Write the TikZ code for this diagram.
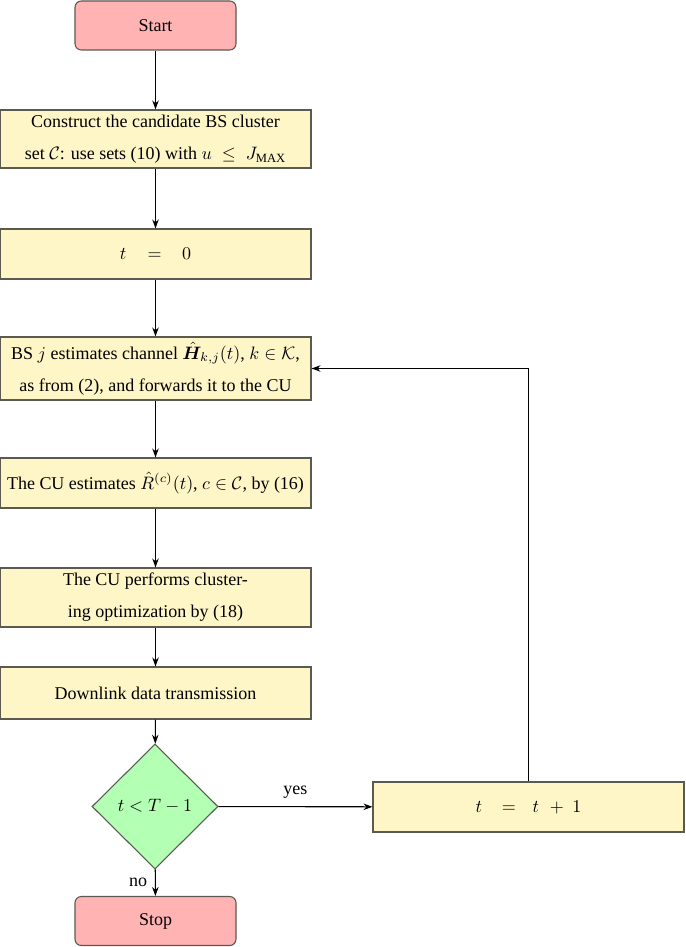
\documentclass[tikz,border=0pt]{standalone}
\usepackage{amsmath,amssymb,bm}
\usepackage{fontspec}
\setmainfont{Liberation Serif}
\usetikzlibrary{shapes.geometric,arrows.meta}
\definecolor{termfill}{RGB}{255,179,179}
\definecolor{procfill}{RGB}{255,246,200}
\definecolor{decfill}{RGB}{179,255,179}
\definecolor{edgegray}{RGB}{90,90,80}
\tikzset{
  base/.style={draw=edgegray, line width=0.6pt, inner sep=0pt, align=center,
    font=\fontsize{10}{17.8}\selectfont},
  term/.style={base, fill=termfill, rounded corners=3.5pt,
    minimum width=161*0.556pt, minimum height=49*0.556pt},
  proc/.style={base, fill=procfill, minimum width=311*0.556pt},
  dec/.style={base, fill=decfill, diamond, aspect=1,
    minimum width=126*0.556pt, minimum height=125*0.556pt},
  arr/.style={draw=black, line width=0.6pt, -{Stealth[length=5pt,width=3.6pt]}},
  lbl/.style={font=\fontsize{10}{12}\selectfont}
}
\begin{document}
\begin{tikzpicture}[x=0.556pt, y=-0.556pt]
\useasboundingbox (0,0) rectangle (685,947);
\node[term] (start) at (155.5,25.5) {Start};
\node[proc, minimum height=58*0.556pt] (cons) at (155.5,139)
  {Construct the candidate BS cluster\\set $\mathcal{C}$: use sets (10) with $u \;\le\; J_{\mathrm{MAX}}$};
\node[proc, minimum height=50*0.556pt] (init) at (155.5,254)
  {$t\hspace{9pt}=\hspace{8.6pt}0$};
\node[proc, minimum height=63*0.556pt] (est) at (155.5,368.5)
  {BS $j$ estimates channel $\hat{\bm{H}}_{k,j}(t)$, $k \in \mathcal{K}$,\\as from (2), and forwards it to the CU};
\node[proc, minimum height=50*0.556pt] (rate) at (155.5,483)
  {The CU estimates $\hat{R}^{(c)}(t)$, $c \in \mathcal{C}$, by (16)};
\node[proc, minimum height=59*0.556pt] (opt) at (155.5,597.5)
  {The CU performs cluster-\\ing optimization by (18)};
\node[proc, minimum height=52*0.556pt] (dl) at (155.5,693)
  {Downlink data transmission};
\node[dec] (cond) at (155,806.5) {$t < T-1$};
\node[proc, minimum height=50*0.556pt] (inc) at (528.5,807)
  {$t\hspace{8.2pt}=\hspace{6.5pt}t\hspace{3.8pt}+\hspace{2.5pt}1$};
\node[term] (stop) at (155.5,921) {Stop};
\coordinate (corner) at (inc.north |- est.east);
\draw[arr] (start) -- (cons);
\draw[arr] (cons) -- (init);
\draw[arr] (init) -- (est);
\draw[arr] (est) -- (rate);
\draw[arr] (rate) -- (opt);
\draw[arr] (opt) -- (dl);
\draw[arr] (dl) -- (cond);
\draw[arr] (cond) -- node[lbl, above, yshift=1pt] (yes) {yes} (inc);
\draw[arr] (cond) -- node[lbl, left, xshift=-1pt] (no) {no} (stop);
\draw[arr] (inc.north) -- (corner) -- (est.east);
\end{tikzpicture}
\end{document}
